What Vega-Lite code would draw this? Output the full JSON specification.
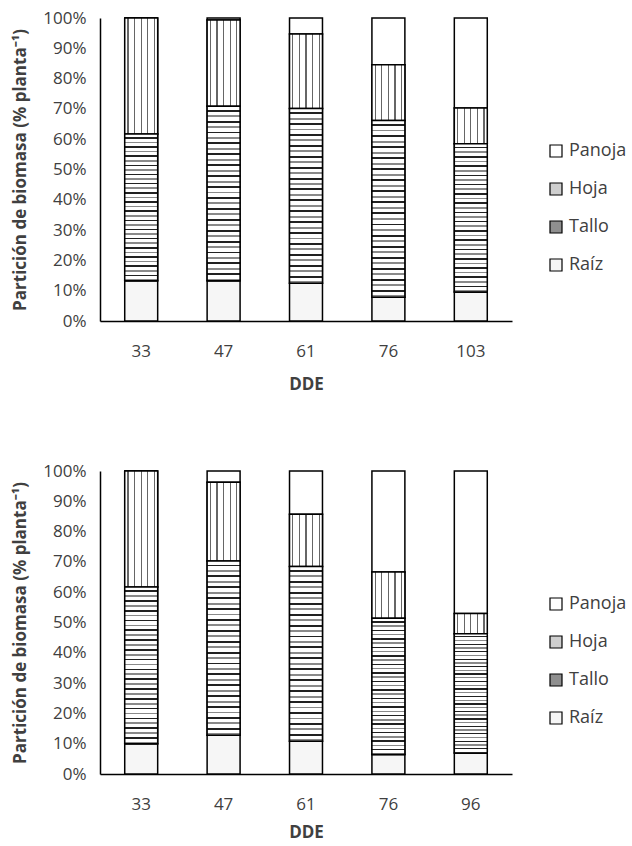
{
 "$schema": "https://vega.github.io/schema/vega-lite/v6.json",
 "background": "white",
 "padding": {"left": 11, "top": 9, "right": 2, "bottom": 0},
 "config": {
  "view": {"stroke": null},
  "font": "Open Sans",
  "axis": {"grid": false, "ticks": false, "domainColor": "#000", "domainWidth": 1.5, "labelColor": "#404040", "labelFontSize": 17, "titleColor": "#404040", "titleFontSize": 17, "titleFontWeight": "bold", "labelFont": "Open Sans", "titleFont": "Open Sans"},
  "legend": {"labelFont": "Open Sans", "labelFontSize": 18, "labelColor": "#404040"},
  "concat": {"spacing": 70}
 },
 "datasets": {
  "p1": [
   {"dde": 33, "parte": "Raíz", "pct": 13.3}, {"dde": 33, "parte": "Tallo", "pct": 48.4}, {"dde": 33, "parte": "Hoja", "pct": 38.3}, {"dde": 33, "parte": "Panoja", "pct": 0},
   {"dde": 47, "parte": "Raíz", "pct": 13.3}, {"dde": 47, "parte": "Tallo", "pct": 57.6}, {"dde": 47, "parte": "Hoja", "pct": 28.4}, {"dde": 47, "parte": "Panoja", "pct": 0.7},
   {"dde": 61, "parte": "Raíz", "pct": 12.5}, {"dde": 61, "parte": "Tallo", "pct": 57.6}, {"dde": 61, "parte": "Hoja", "pct": 24.6}, {"dde": 61, "parte": "Panoja", "pct": 5.3},
   {"dde": 76, "parte": "Raíz", "pct": 7.8}, {"dde": 76, "parte": "Tallo", "pct": 58.4}, {"dde": 76, "parte": "Hoja", "pct": 18.4}, {"dde": 76, "parte": "Panoja", "pct": 15.4},
   {"dde": 103, "parte": "Raíz", "pct": 9.6}, {"dde": 103, "parte": "Tallo", "pct": 48.9}, {"dde": 103, "parte": "Hoja", "pct": 11.8}, {"dde": 103, "parte": "Panoja", "pct": 29.7}
  ],
  "p2": [
   {"dde": 33, "parte": "Raíz", "pct": 10.0}, {"dde": 33, "parte": "Tallo", "pct": 51.7}, {"dde": 33, "parte": "Hoja", "pct": 38.3}, {"dde": 33, "parte": "Panoja", "pct": 0},
   {"dde": 47, "parte": "Raíz", "pct": 12.8}, {"dde": 47, "parte": "Tallo", "pct": 57.5}, {"dde": 47, "parte": "Hoja", "pct": 26.0}, {"dde": 47, "parte": "Panoja", "pct": 3.7},
   {"dde": 61, "parte": "Raíz", "pct": 10.8}, {"dde": 61, "parte": "Tallo", "pct": 57.7}, {"dde": 61, "parte": "Hoja", "pct": 17.2}, {"dde": 61, "parte": "Panoja", "pct": 14.3},
   {"dde": 76, "parte": "Raíz", "pct": 6.4}, {"dde": 76, "parte": "Tallo", "pct": 45.0}, {"dde": 76, "parte": "Hoja", "pct": 15.3}, {"dde": 76, "parte": "Panoja", "pct": 33.3},
   {"dde": 96, "parte": "Raíz", "pct": 6.9}, {"dde": 96, "parte": "Tallo", "pct": 39.4}, {"dde": 96, "parte": "Hoja", "pct": 6.7}, {"dde": 96, "parte": "Panoja", "pct": 47.0}
  ]
 },
 "vconcat": [
  {
   "data": {"name": "p1"},
   "width": 412, "height": 303,
   "transform": [
    {"calculate": "indexof(['Raíz','Tallo','Hoja','Panoja'], datum.parte)", "as": "ord"},
    {"stack": "pct", "groupby": ["dde"], "sort": [{"field": "ord", "order": "ascending"}], "offset": "normalize", "as": ["y0", "y1"]}
   ],
   "encoding": {
    "x": {"field": "dde", "type": "ordinal", "scale": {"paddingInner": 0.6, "paddingOuter": 0.3}, "axis": {"title": "DDE", "labelAngle": 0, "labelPadding": 22, "titlePadding": 17}},
    "y": {"field": "y0", "type": "quantitative", "scale": {"domain": [0, 1]}, "axis": {"values": [0, 0.1, 0.2, 0.3, 0.4, 0.5, 0.6, 0.7, 0.8, 0.9, 1], "format": ".0%", "title": "Partición  de biomasa (% planta⁻¹)", "labelPadding": 14, "titlePadding": 13}},
    "y2": {"field": "y1"}
   },
   "layer": [
    {
     "mark": {"type": "bar", "stroke": "#000", "strokeWidth": 1.5},
     "encoding": {
      "fill": {"field": "parte", "type": "nominal", "scale": {"domain": ["Panoja", "Hoja", "Tallo", "Raíz"], "range": ["#ffffff", "#cfcfcf", "#8f8f8f", "#f6f6f6"]}, "legend": {"title": null, "orient": "none", "legendX": 447, "legendY": 124, "symbolType": "square", "symbolSize": 144, "symbolStrokeColor": "#000", "symbolStrokeWidth": 1.2, "rowPadding": 20, "labelOffset": 4}}
     }
    },
    {
     "transform": [{"filter": "datum.parte === 'Hoja'"}],
     "mark": {"type": "bar", "stroke": "#000", "strokeWidth": 1.5, "fill": {"gradient": "linear", "x1": 0, "y1": 0, "x2": 1, "y2": 0, "stops": [
       {"offset": 0, "color": "#fff"}, {"offset": 0.08, "color": "#fff"}, {"offset": 0.08, "color": "#666"}, {"offset": 0.12, "color": "#666"}, {"offset": 0.12, "color": "#fff"},
       {"offset": 0.28, "color": "#fff"}, {"offset": 0.28, "color": "#666"}, {"offset": 0.32, "color": "#666"}, {"offset": 0.32, "color": "#fff"},
       {"offset": 0.48, "color": "#fff"}, {"offset": 0.48, "color": "#666"}, {"offset": 0.52, "color": "#666"}, {"offset": 0.52, "color": "#fff"},
       {"offset": 0.68, "color": "#fff"}, {"offset": 0.68, "color": "#666"}, {"offset": 0.72, "color": "#666"}, {"offset": 0.72, "color": "#fff"},
       {"offset": 0.88, "color": "#fff"}, {"offset": 0.88, "color": "#666"}, {"offset": 0.92, "color": "#666"}, {"offset": 0.92, "color": "#fff"}, {"offset": 1, "color": "#fff"}
      ]}}
    },
    {
     "transform": [{"filter": "datum.parte === 'Tallo'"}],
     "mark": {"type": "bar", "stroke": "#000", "strokeWidth": 1.5, "fill": {"gradient": "linear", "x1": 0, "y1": 0, "x2": 0, "y2": 1, "stops": [
       {"offset": 0, "color": "#fff"}, {"offset": 0.0203, "color": "#fff"}, {"offset": 0.0203, "color": "#222"}, {"offset": 0.0313, "color": "#222"},
       {"offset": 0.0313, "color": "#fff"}, {"offset": 0.0516, "color": "#fff"}, {"offset": 0.0516, "color": "#8a8a8a"}, {"offset": 0.0625, "color": "#8a8a8a"},
       {"offset": 0.0625, "color": "#fff"}, {"offset": 0.0828, "color": "#fff"}, {"offset": 0.0828, "color": "#222"}, {"offset": 0.0938, "color": "#222"},
       {"offset": 0.0938, "color": "#fff"}, {"offset": 0.1141, "color": "#fff"}, {"offset": 0.1141, "color": "#8a8a8a"}, {"offset": 0.125, "color": "#8a8a8a"},
       {"offset": 0.125, "color": "#fff"}, {"offset": 0.1453, "color": "#fff"}, {"offset": 0.1453, "color": "#222"}, {"offset": 0.1563, "color": "#222"},
       {"offset": 0.1563, "color": "#fff"}, {"offset": 0.1766, "color": "#fff"}, {"offset": 0.1766, "color": "#8a8a8a"}, {"offset": 0.1875, "color": "#8a8a8a"},
       {"offset": 0.1875, "color": "#fff"}, {"offset": 0.2078, "color": "#fff"}, {"offset": 0.2078, "color": "#222"}, {"offset": 0.2188, "color": "#222"},
       {"offset": 0.2188, "color": "#fff"}, {"offset": 0.2391, "color": "#fff"}, {"offset": 0.2391, "color": "#8a8a8a"}, {"offset": 0.25, "color": "#8a8a8a"},
       {"offset": 0.25, "color": "#fff"}, {"offset": 0.2703, "color": "#fff"}, {"offset": 0.2703, "color": "#222"}, {"offset": 0.2813, "color": "#222"},
       {"offset": 0.2813, "color": "#fff"}, {"offset": 0.3016, "color": "#fff"}, {"offset": 0.3016, "color": "#8a8a8a"}, {"offset": 0.3125, "color": "#8a8a8a"},
       {"offset": 0.3125, "color": "#fff"}, {"offset": 0.3328, "color": "#fff"}, {"offset": 0.3328, "color": "#222"}, {"offset": 0.3438, "color": "#222"},
       {"offset": 0.3438, "color": "#fff"}, {"offset": 0.3641, "color": "#fff"}, {"offset": 0.3641, "color": "#8a8a8a"}, {"offset": 0.375, "color": "#8a8a8a"},
       {"offset": 0.375, "color": "#fff"}, {"offset": 0.3953, "color": "#fff"}, {"offset": 0.3953, "color": "#222"}, {"offset": 0.4063, "color": "#222"},
       {"offset": 0.4063, "color": "#fff"}, {"offset": 0.4266, "color": "#fff"}, {"offset": 0.4266, "color": "#8a8a8a"}, {"offset": 0.4375, "color": "#8a8a8a"},
       {"offset": 0.4375, "color": "#fff"}, {"offset": 0.4578, "color": "#fff"}, {"offset": 0.4578, "color": "#222"}, {"offset": 0.4688, "color": "#222"},
       {"offset": 0.4688, "color": "#fff"}, {"offset": 0.4891, "color": "#fff"}, {"offset": 0.4891, "color": "#8a8a8a"}, {"offset": 0.5, "color": "#8a8a8a"},
       {"offset": 0.5, "color": "#fff"}, {"offset": 0.5203, "color": "#fff"}, {"offset": 0.5203, "color": "#222"}, {"offset": 0.5313, "color": "#222"},
       {"offset": 0.5313, "color": "#fff"}, {"offset": 0.5516, "color": "#fff"}, {"offset": 0.5516, "color": "#8a8a8a"}, {"offset": 0.5625, "color": "#8a8a8a"},
       {"offset": 0.5625, "color": "#fff"}, {"offset": 0.5828, "color": "#fff"}, {"offset": 0.5828, "color": "#222"}, {"offset": 0.5938, "color": "#222"},
       {"offset": 0.5938, "color": "#fff"}, {"offset": 0.6141, "color": "#fff"}, {"offset": 0.6141, "color": "#8a8a8a"}, {"offset": 0.625, "color": "#8a8a8a"},
       {"offset": 0.625, "color": "#fff"}, {"offset": 0.6453, "color": "#fff"}, {"offset": 0.6453, "color": "#222"}, {"offset": 0.6563, "color": "#222"},
       {"offset": 0.6563, "color": "#fff"}, {"offset": 0.6766, "color": "#fff"}, {"offset": 0.6766, "color": "#8a8a8a"}, {"offset": 0.6875, "color": "#8a8a8a"},
       {"offset": 0.6875, "color": "#fff"}, {"offset": 0.7078, "color": "#fff"}, {"offset": 0.7078, "color": "#222"}, {"offset": 0.7188, "color": "#222"},
       {"offset": 0.7188, "color": "#fff"}, {"offset": 0.7391, "color": "#fff"}, {"offset": 0.7391, "color": "#8a8a8a"}, {"offset": 0.75, "color": "#8a8a8a"},
       {"offset": 0.75, "color": "#fff"}, {"offset": 0.7703, "color": "#fff"}, {"offset": 0.7703, "color": "#222"}, {"offset": 0.7813, "color": "#222"},
       {"offset": 0.7813, "color": "#fff"}, {"offset": 0.8016, "color": "#fff"}, {"offset": 0.8016, "color": "#8a8a8a"}, {"offset": 0.8125, "color": "#8a8a8a"},
       {"offset": 0.8125, "color": "#fff"}, {"offset": 0.8328, "color": "#fff"}, {"offset": 0.8328, "color": "#222"}, {"offset": 0.8438, "color": "#222"},
       {"offset": 0.8438, "color": "#fff"}, {"offset": 0.8641, "color": "#fff"}, {"offset": 0.8641, "color": "#8a8a8a"}, {"offset": 0.875, "color": "#8a8a8a"},
       {"offset": 0.875, "color": "#fff"}, {"offset": 0.8953, "color": "#fff"}, {"offset": 0.8953, "color": "#222"}, {"offset": 0.9063, "color": "#222"},
       {"offset": 0.9063, "color": "#fff"}, {"offset": 0.9266, "color": "#fff"}, {"offset": 0.9266, "color": "#8a8a8a"}, {"offset": 0.9375, "color": "#8a8a8a"},
       {"offset": 0.9375, "color": "#fff"}, {"offset": 0.9578, "color": "#fff"}, {"offset": 0.9578, "color": "#222"}, {"offset": 0.9688, "color": "#222"},
       {"offset": 0.9688, "color": "#fff"}, {"offset": 0.9891, "color": "#fff"}, {"offset": 0.9891, "color": "#8a8a8a"}, {"offset": 1, "color": "#8a8a8a"}
      ]}}
    }
   ]
  },
  {
   "data": {"name": "p2"},
   "width": 412, "height": 303,
   "transform": [
    {"calculate": "indexof(['Raíz','Tallo','Hoja','Panoja'], datum.parte)", "as": "ord"},
    {"stack": "pct", "groupby": ["dde"], "sort": [{"field": "ord", "order": "ascending"}], "offset": "normalize", "as": ["y0", "y1"]}
   ],
   "encoding": {
    "x": {"field": "dde", "type": "ordinal", "scale": {"paddingInner": 0.6, "paddingOuter": 0.3}, "axis": {"title": "DDE", "labelAngle": 0, "labelPadding": 22, "titlePadding": 12}},
    "y": {"field": "y0", "type": "quantitative", "scale": {"domain": [0, 1]}, "axis": {"values": [0, 0.1, 0.2, 0.3, 0.4, 0.5, 0.6, 0.7, 0.8, 0.9, 1], "format": ".0%", "title": "Partición de biomasa (% planta⁻¹)", "labelPadding": 14, "titlePadding": 13}},
    "y2": {"field": "y1"}
   },
   "layer": [
    {
     "mark": {"type": "bar", "stroke": "#000", "strokeWidth": 1.5},
     "encoding": {
      "fill": {"field": "parte", "type": "nominal", "scale": {"domain": ["Panoja", "Hoja", "Tallo", "Raíz"], "range": ["#ffffff", "#cfcfcf", "#8f8f8f", "#f6f6f6"]}, "legend": {"title": null, "orient": "none", "legendX": 447, "legendY": 124, "symbolType": "square", "symbolSize": 144, "symbolStrokeColor": "#000", "symbolStrokeWidth": 1.2, "rowPadding": 20, "labelOffset": 4}}
     }
    },
    {
     "transform": [{"filter": "datum.parte === 'Hoja'"}],
     "mark": {"type": "bar", "stroke": "#000", "strokeWidth": 1.5, "fill": {"gradient": "linear", "x1": 0, "y1": 0, "x2": 1, "y2": 0, "stops": [
       {"offset": 0, "color": "#fff"}, {"offset": 0.08, "color": "#fff"}, {"offset": 0.08, "color": "#666"}, {"offset": 0.12, "color": "#666"}, {"offset": 0.12, "color": "#fff"},
       {"offset": 0.28, "color": "#fff"}, {"offset": 0.28, "color": "#666"}, {"offset": 0.32, "color": "#666"}, {"offset": 0.32, "color": "#fff"},
       {"offset": 0.48, "color": "#fff"}, {"offset": 0.48, "color": "#666"}, {"offset": 0.52, "color": "#666"}, {"offset": 0.52, "color": "#fff"},
       {"offset": 0.68, "color": "#fff"}, {"offset": 0.68, "color": "#666"}, {"offset": 0.72, "color": "#666"}, {"offset": 0.72, "color": "#fff"},
       {"offset": 0.88, "color": "#fff"}, {"offset": 0.88, "color": "#666"}, {"offset": 0.92, "color": "#666"}, {"offset": 0.92, "color": "#fff"}, {"offset": 1, "color": "#fff"}
      ]}}
    },
    {
     "transform": [{"filter": "datum.parte === 'Tallo'"}],
     "mark": {"type": "bar", "stroke": "#000", "strokeWidth": 1.5, "fill": {"gradient": "linear", "x1": 0, "y1": 0, "x2": 0, "y2": 1, "stops": [
       {"offset": 0, "color": "#fff"}, {"offset": 0.0203, "color": "#fff"}, {"offset": 0.0203, "color": "#222"}, {"offset": 0.0313, "color": "#222"},
       {"offset": 0.0313, "color": "#fff"}, {"offset": 0.0516, "color": "#fff"}, {"offset": 0.0516, "color": "#8a8a8a"}, {"offset": 0.0625, "color": "#8a8a8a"},
       {"offset": 0.0625, "color": "#fff"}, {"offset": 0.0828, "color": "#fff"}, {"offset": 0.0828, "color": "#222"}, {"offset": 0.0938, "color": "#222"},
       {"offset": 0.0938, "color": "#fff"}, {"offset": 0.1141, "color": "#fff"}, {"offset": 0.1141, "color": "#8a8a8a"}, {"offset": 0.125, "color": "#8a8a8a"},
       {"offset": 0.125, "color": "#fff"}, {"offset": 0.1453, "color": "#fff"}, {"offset": 0.1453, "color": "#222"}, {"offset": 0.1563, "color": "#222"},
       {"offset": 0.1563, "color": "#fff"}, {"offset": 0.1766, "color": "#fff"}, {"offset": 0.1766, "color": "#8a8a8a"}, {"offset": 0.1875, "color": "#8a8a8a"},
       {"offset": 0.1875, "color": "#fff"}, {"offset": 0.2078, "color": "#fff"}, {"offset": 0.2078, "color": "#222"}, {"offset": 0.2188, "color": "#222"},
       {"offset": 0.2188, "color": "#fff"}, {"offset": 0.2391, "color": "#fff"}, {"offset": 0.2391, "color": "#8a8a8a"}, {"offset": 0.25, "color": "#8a8a8a"},
       {"offset": 0.25, "color": "#fff"}, {"offset": 0.2703, "color": "#fff"}, {"offset": 0.2703, "color": "#222"}, {"offset": 0.2813, "color": "#222"},
       {"offset": 0.2813, "color": "#fff"}, {"offset": 0.3016, "color": "#fff"}, {"offset": 0.3016, "color": "#8a8a8a"}, {"offset": 0.3125, "color": "#8a8a8a"},
       {"offset": 0.3125, "color": "#fff"}, {"offset": 0.3328, "color": "#fff"}, {"offset": 0.3328, "color": "#222"}, {"offset": 0.3438, "color": "#222"},
       {"offset": 0.3438, "color": "#fff"}, {"offset": 0.3641, "color": "#fff"}, {"offset": 0.3641, "color": "#8a8a8a"}, {"offset": 0.375, "color": "#8a8a8a"},
       {"offset": 0.375, "color": "#fff"}, {"offset": 0.3953, "color": "#fff"}, {"offset": 0.3953, "color": "#222"}, {"offset": 0.4063, "color": "#222"},
       {"offset": 0.4063, "color": "#fff"}, {"offset": 0.4266, "color": "#fff"}, {"offset": 0.4266, "color": "#8a8a8a"}, {"offset": 0.4375, "color": "#8a8a8a"},
       {"offset": 0.4375, "color": "#fff"}, {"offset": 0.4578, "color": "#fff"}, {"offset": 0.4578, "color": "#222"}, {"offset": 0.4688, "color": "#222"},
       {"offset": 0.4688, "color": "#fff"}, {"offset": 0.4891, "color": "#fff"}, {"offset": 0.4891, "color": "#8a8a8a"}, {"offset": 0.5, "color": "#8a8a8a"},
       {"offset": 0.5, "color": "#fff"}, {"offset": 0.5203, "color": "#fff"}, {"offset": 0.5203, "color": "#222"}, {"offset": 0.5313, "color": "#222"},
       {"offset": 0.5313, "color": "#fff"}, {"offset": 0.5516, "color": "#fff"}, {"offset": 0.5516, "color": "#8a8a8a"}, {"offset": 0.5625, "color": "#8a8a8a"},
       {"offset": 0.5625, "color": "#fff"}, {"offset": 0.5828, "color": "#fff"}, {"offset": 0.5828, "color": "#222"}, {"offset": 0.5938, "color": "#222"},
       {"offset": 0.5938, "color": "#fff"}, {"offset": 0.6141, "color": "#fff"}, {"offset": 0.6141, "color": "#8a8a8a"}, {"offset": 0.625, "color": "#8a8a8a"},
       {"offset": 0.625, "color": "#fff"}, {"offset": 0.6453, "color": "#fff"}, {"offset": 0.6453, "color": "#222"}, {"offset": 0.6563, "color": "#222"},
       {"offset": 0.6563, "color": "#fff"}, {"offset": 0.6766, "color": "#fff"}, {"offset": 0.6766, "color": "#8a8a8a"}, {"offset": 0.6875, "color": "#8a8a8a"},
       {"offset": 0.6875, "color": "#fff"}, {"offset": 0.7078, "color": "#fff"}, {"offset": 0.7078, "color": "#222"}, {"offset": 0.7188, "color": "#222"},
       {"offset": 0.7188, "color": "#fff"}, {"offset": 0.7391, "color": "#fff"}, {"offset": 0.7391, "color": "#8a8a8a"}, {"offset": 0.75, "color": "#8a8a8a"},
       {"offset": 0.75, "color": "#fff"}, {"offset": 0.7703, "color": "#fff"}, {"offset": 0.7703, "color": "#222"}, {"offset": 0.7813, "color": "#222"},
       {"offset": 0.7813, "color": "#fff"}, {"offset": 0.8016, "color": "#fff"}, {"offset": 0.8016, "color": "#8a8a8a"}, {"offset": 0.8125, "color": "#8a8a8a"},
       {"offset": 0.8125, "color": "#fff"}, {"offset": 0.8328, "color": "#fff"}, {"offset": 0.8328, "color": "#222"}, {"offset": 0.8438, "color": "#222"},
       {"offset": 0.8438, "color": "#fff"}, {"offset": 0.8641, "color": "#fff"}, {"offset": 0.8641, "color": "#8a8a8a"}, {"offset": 0.875, "color": "#8a8a8a"},
       {"offset": 0.875, "color": "#fff"}, {"offset": 0.8953, "color": "#fff"}, {"offset": 0.8953, "color": "#222"}, {"offset": 0.9063, "color": "#222"},
       {"offset": 0.9063, "color": "#fff"}, {"offset": 0.9266, "color": "#fff"}, {"offset": 0.9266, "color": "#8a8a8a"}, {"offset": 0.9375, "color": "#8a8a8a"},
       {"offset": 0.9375, "color": "#fff"}, {"offset": 0.9578, "color": "#fff"}, {"offset": 0.9578, "color": "#222"}, {"offset": 0.9688, "color": "#222"},
       {"offset": 0.9688, "color": "#fff"}, {"offset": 0.9891, "color": "#fff"}, {"offset": 0.9891, "color": "#8a8a8a"}, {"offset": 1, "color": "#8a8a8a"}
      ]}}
    }
   ]
  }
 ],
 "resolve": {"scale": {"fill": "independent"}, "legend": {"fill": "independent"}}
}
